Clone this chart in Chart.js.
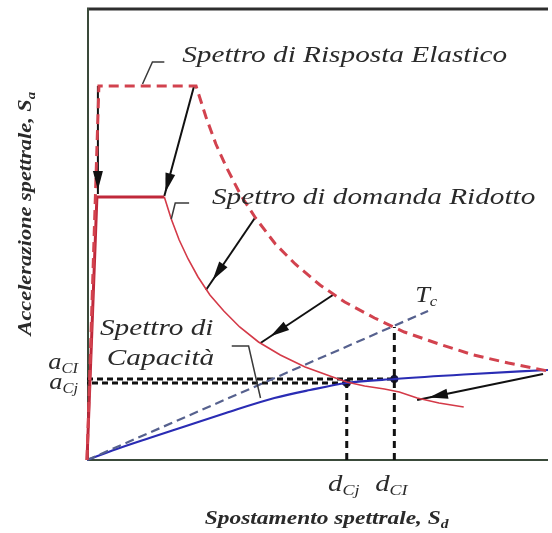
<!DOCTYPE html>
<html>
<head>
<meta charset="utf-8">
<script src="https://cdn.jsdelivr.net/npm/chart.js@4/dist/chart.umd.min.js"></script>
<style>
  html, body { margin: 0; padding: 0; background: #ffffff; }
  #wrap { width: 552px; height: 533px; }
</style>
</head>
<body>
<div id="wrap"><canvas id="c" width="552" height="533"></canvas></div>
<script>
// ADRS plot: spectral displacement Sd (x) against spectral acceleration Sa (y)

// Elastic response spectrum
const elasticSd = [0, 1.2, 11.0, 12.0, 13.0, 14.0, 15.5, 17.0, 19.0, 21.0, 23.5, 26.0, 29.0, 32.0, 35.5, 39.0, 42.5, 46.5];
const elasticSa = [0, 3.74, 3.74, 3.43, 3.16, 2.94, 2.65, 2.42, 2.16, 1.96, 1.75, 1.58, 1.42, 1.28, 1.16, 1.05, 0.97, 0.89];

// Reduced demand spectrum
const reducedSd = [0, 1.0, 7.8, 8.5, 9.3, 10.2, 11.2, 12.4, 13.8, 15.4, 17.3, 19.5, 22.0, 24.5, 26.2, 28.0, 30.0, 31.5, 33.3, 35.5, 38.0];
const reducedSa = [0, 2.63, 2.63, 2.41, 2.20, 2.01, 1.83, 1.65, 1.49, 1.33, 1.18, 1.05, 0.93, 0.84, 0.78, 0.74, 0.71, 0.68, 0.62, 0.57, 0.53];

// Capacity spectrum
const capacitySd = [0, 3.0, 6.3, 10.0, 14.0, 18.9, 22.5, 26.2, 31.0, 38.0, 46.5];
const capacitySa = [0, 0.11, 0.22, 0.34, 0.47, 0.62, 0.70, 0.77, 0.81, 0.855, 0.90];

// Elastic period line Tc
const periodSd = [0, 34.4];
const periodSa = [0, 1.49];

// Performance points (j and I)
const pointLabels = ['Cj', 'CI'];
const pointSd = [26.2, 31.0];
const pointSa = [0.77, 0.81];
// Top of the dCI guide, on the elastic spectrum
const elasticAtDCI = 1.33;

// Reduction arrows: [Sd start, Sa start, Sd end, Sa end]
const arrowFromSd = [1.1, 10.8, 17.0, 24.8, 46.0];
const arrowFromSa = [3.74, 3.74, 2.43, 1.65, 0.86];
const arrowToSd = [1.1, 7.8, 12.0, 17.5, 33.3];
const arrowToSa = [2.66, 2.64, 1.70, 1.17, 0.60];

const SD_MAX = 46.5;
const SA_MAX = 4.52;

const zip = (xs, ys) => xs.map((x, i) => ({ x: x, y: ys[i] }));

const lineBase = { showLine: true, pointRadius: 0, pointHoverRadius: 0, fill: false, tension: 0, clip: 12 };

const datasets = [
  Object.assign({}, lineBase, {
    label: 'Spettro di Risposta Elastico',
    data: zip(elasticSd, elasticSa),
    borderColor: '#d2424e', borderWidth: 3, borderDash: [10, 6]
  }),
  Object.assign({}, lineBase, {
    label: 'Spettro di domanda Ridotto',
    data: zip(reducedSd, reducedSa),
    borderColor: '#d43a48', borderWidth: 1.6,
    segment: { borderWidth: ctx => ctx.p0DataIndex < 2 ? 3 : 1.6, borderColor: ctx => ctx.p0DataIndex < 2 ? '#c0283a' : '#d43a48' }
  }),
  Object.assign({}, lineBase, {
    label: 'Tc',
    data: zip(periodSd, periodSa),
    borderColor: '#56618e', borderWidth: 2.2, borderDash: [9, 5]
  }),
  Object.assign({}, lineBase, {
    label: 'Spettro di Capacità',
    data: zip(capacitySd, capacitySa),
    borderColor: '#2a2cb4', borderWidth: 2.2, cubicInterpolationMode: 'monotone'
  }),
  // guide lines to the performance points
  Object.assign({}, lineBase, {
    label: 'aCI',
    data: [{ x: 0, y: pointSa[1] }, { x: pointSd[1], y: pointSa[1] }],
    borderColor: '#111111', borderWidth: 3, borderDash: [6, 4]
  }),
  Object.assign({}, lineBase, {
    label: 'aCj',
    data: [{ x: 0, y: pointSa[0] }, { x: pointSd[0], y: pointSa[0] }],
    borderColor: '#111111', borderWidth: 3, borderDash: [6, 4], borderDashOffset: 5
  }),
  Object.assign({}, lineBase, {
    label: 'dCj',
    data: [{ x: pointSd[0], y: 0 }, { x: pointSd[0], y: pointSa[0] }],
    borderColor: '#111111', borderWidth: 3, borderDash: [7, 5]
  }),
  Object.assign({}, lineBase, {
    label: 'dCI',
    data: [{ x: pointSd[1], y: 0 }, { x: pointSd[1], y: elasticAtDCI }],
    borderColor: '#111111', borderWidth: 3, borderDash: [7, 5]
  }),
  {
    label: 'punti',
    data: zip(pointSd, pointSa),
    showLine: false, pointRadius: 4, pointBackgroundColor: '#15153a', pointBorderWidth: 0, clip: 12
  }
];

// arrow shafts
arrowFromSd.forEach((sd, i) => {
  datasets.push(Object.assign({}, lineBase, {
    label: 'arrow' + i,
    data: [{ x: sd, y: arrowFromSa[i] }, { x: arrowToSd[i], y: arrowToSa[i] }],
    borderColor: '#111111', borderWidth: 2
  }));
});

const SERIF = '"Liberation Serif", "DejaVu Serif", serif';
const TEXT = '#2a2a2a';

// draw a run of text pieces (main text + subscripts), widened by `stretch`
function drawRuns(ctx, x, y, runs, align, stretch) {
  const s = stretch || 1;
  let total = 0;
  runs.forEach(r => { ctx.font = r.font; total += ctx.measureText(r.text).width; });
  const w = total * s;
  const startX = align === 'center' ? x - w / 2 : align === 'right' ? x - w : x;
  ctx.save();
  ctx.translate(startX, y);
  ctx.scale(s, 1);
  let cx = 0;
  runs.forEach(r => {
    ctx.font = r.font;
    ctx.fillText(r.text, cx, r.dy || 0);
    cx += ctx.measureText(r.text).width;
  });
  ctx.restore();
}

const annotations = {
  id: 'annotations',
  beforeDatasetsDraw(chart) {
    const { ctx, chartArea: a } = chart;
    ctx.save();
    ctx.lineCap = 'butt';
    // top frame line
    ctx.strokeStyle = '#2e2e2e';
    ctx.lineWidth = 3;
    ctx.beginPath(); ctx.moveTo(a.left, a.top + 1); ctx.lineTo(a.right, a.top + 1); ctx.stroke();
    // axes
    ctx.strokeStyle = '#3a4a3a';
    ctx.lineWidth = 2;
    ctx.beginPath();
    ctx.moveTo(a.left + 1, a.top); ctx.lineTo(a.left + 1, a.bottom);
    ctx.lineTo(a.right, a.bottom);
    ctx.stroke();
    ctx.restore();
  },
  afterDatasetsDraw(chart) {
    const { ctx, chartArea: a, scales } = chart;
    const X = v => scales.x.getPixelForValue(v);
    const Y = v => scales.y.getPixelForValue(v);
    ctx.save();

    // arrow heads, tip set a little back from the shaft end
    ctx.fillStyle = '#111111';
    arrowFromSd.forEach((sd, i) => {
      const x0 = X(sd), y0 = Y(arrowFromSa[i]);
      const x1 = X(arrowToSd[i]), y1 = Y(arrowToSa[i]);
      const len = Math.hypot(x1 - x0, y1 - y0);
      const ux = (x1 - x0) / len, uy = (y1 - y0) / len;
      const back = i < 2 ? 4 : 12;
      const tx = x1 - ux * back, ty = y1 - uy * back;
      const hl = 19, hw = 5;
      const bx = tx - ux * hl, by = ty - uy * hl;
      ctx.beginPath();
      ctx.moveTo(tx, ty);
      ctx.lineTo(bx - uy * hw, by + ux * hw);
      ctx.lineTo(bx + uy * hw, by - ux * hw);
      ctx.closePath();
      ctx.fill();
    });

    // leader ticks from labels to curves
    ctx.strokeStyle = '#3a3a3a';
    ctx.lineWidth = 1.5;
    const leader = pts => {
      ctx.beginPath();
      pts.forEach((p, k) => k ? ctx.lineTo(X(p[0]), Y(p[1])) : ctx.moveTo(X(p[0]), Y(p[1])));
      ctx.stroke();
    };
    leader([[7.8, 3.98], [6.6, 3.98], [5.6, 3.76]]);
    leader([[10.3, 2.57], [8.9, 2.57], [8.5, 2.41]]);
    leader([[14.6, 1.14], [16.3, 1.14], [17.5, 0.62]]);

    // curve labels
    ctx.fillStyle = TEXT;
    ctx.textBaseline = 'alphabetic';
    const lab = 'italic 24px ' + SERIF;
    const sub = 'italic 15px ' + SERIF;
    const W = 1.22;
    drawRuns(ctx, X(9.6), Y(3.98), [{ text: 'Spettro di Risposta Elastico', font: lab }], 'left', W);
    drawRuns(ctx, X(12.6), Y(2.56), [{ text: 'Spettro di domanda Ridotto', font: lab }], 'left', W);
    drawRuns(ctx, X(1.3), Y(1.25), [{ text: 'Spettro di', font: lab }], 'left', W);
    drawRuns(ctx, X(2.0), Y(0.95), [{ text: 'Capacità', font: lab }], 'left', W);
    drawRuns(ctx, X(33.1), Y(1.58), [{ text: 'T', font: lab }, { text: 'c', font: sub, dy: 4 }], 'left', 1.1);

    // performance point labels on the axes
    drawRuns(ctx, a.left - 9, Y(pointSa[1]) - 10, [{ text: 'a', font: lab }, { text: pointLabels[1], font: sub, dy: 4 }], 'right', 1.1);
    drawRuns(ctx, a.left - 9, Y(pointSa[0]) + 6, [{ text: 'a', font: lab }, { text: pointLabels[0], font: sub, dy: 4 }], 'right', 1.1);
    pointSd.forEach((sd, i) => {
      drawRuns(ctx, X(sd) - 3, a.bottom + 31, [{ text: 'd', font: lab }, { text: pointLabels[i], font: sub, dy: 4 }], 'center', 1.2);
    });

    // axis titles
    const ttl = 'bold italic 18px ' + SERIF;
    const ttlSub = 'bold italic 12px ' + SERIF;
    drawRuns(ctx, X(SD_MAX * 0.52), a.bottom + 64, [{ text: 'Spostamento spettrale, S', font: ttl }, { text: 'd', font: ttlSub, dy: 4 }], 'center', 1.3);
    ctx.translate(a.left - 56, Y(SA_MAX * 0.545));
    ctx.rotate(-Math.PI / 2);
    drawRuns(ctx, 0, 0, [{ text: 'Accelerazione spettrale, S', font: ttl }, { text: 'a', font: ttlSub, dy: 4 }], 'center', 1.24);
    ctx.restore();
  }
};

new Chart(document.getElementById('c'), {
  type: 'scatter',
  data: { datasets: datasets },
  options: {
    responsive: false,
    animation: false,
    events: [],
    layout: { padding: { left: 87, top: 8, right: 0, bottom: 73 } },
    plugins: { legend: { display: false }, tooltip: { enabled: false } },
    scales: {
      x: { type: 'linear', display: false, min: 0, max: SD_MAX },
      y: { type: 'linear', display: false, min: 0, max: SA_MAX }
    }
  },
  plugins: [annotations]
});
</script>
</body>
</html>
